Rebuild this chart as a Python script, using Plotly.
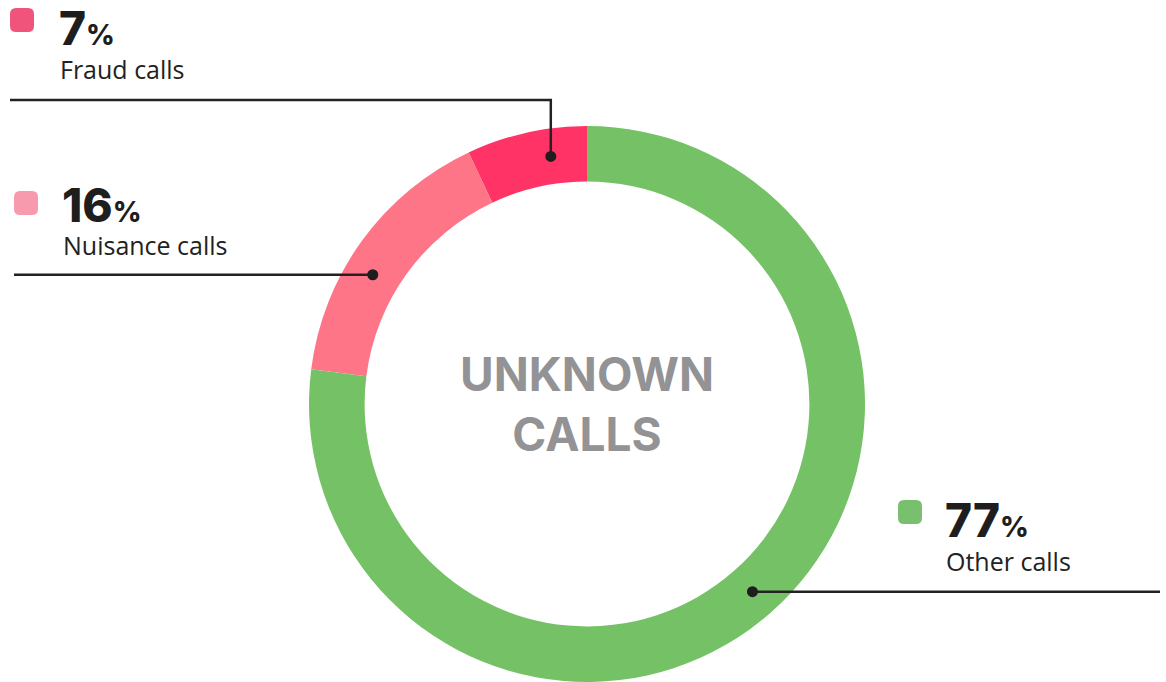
import math
import plotly.graph_objects as go

# ---- data ----
categories = ["Fraud calls", "Nuisance calls", "Other calls"]
shares = [7, 16, 77]
slice_colors = ["#FF3366", "#FF7588", "#75C266"]
legend_colors = ["#F0547A", "#F89AAE", "#78C06E"]
center_title = ["UNKNOWN", "CALLS"]

# ---- layout constants (pixels) ----
W, H = 1166, 682
CX, CY, R_OUT = 587, 404, 278
HOLE = 0.8
R_MID = R_OUT * (1 + HOLE) / 2
# where in each slice the leader dot sits (fraction of slice sweep)
anchor_frac = [0.33, 0.585, 0.5]
# label blocks: (square x, square y, text x, number center y, caption center y, line end x)
label_pos = [
    (10, 8, 60, 28, 69, 10),
    (14, 191, 63, 205, 245, 14),
    (898, 500, 946, 520, 561, 1160),
]

total = sum(shares)

fig = go.Figure()
fig.add_trace(go.Pie(
    labels=categories, values=shares, sort=False, direction="counterclockwise",
    rotation=-shares[0] / total * 360, hole=HOLE, textinfo="none",
    hoverinfo="label+percent",
    marker=dict(colors=slice_colors, line=dict(width=0)),
    domain=dict(x=[(CX - R_OUT) / W, (CX + R_OUT) / W],
                y=[1 - (CY + R_OUT) / H, 1 - (CY - R_OUT) / H]),
    showlegend=False,
))

cum = 0
shapes = []
annotations = []
for i, (cat, v) in enumerate(zip(categories, shares)):
    start = cum / total * 360
    sweep = v / total * 360
    cum += v
    ang = math.radians(start + sweep * anchor_frac[i])  # counterclockwise from 12 o'clock
    dx = CX - R_MID * math.sin(ang)
    dy = CY - R_MID * math.cos(ang)
    sqx, sqy, tx, ny, cy, lx = label_pos[i]
    # leader line
    if i == 0:
        ly = 100
        shapes.append(dict(type="path", xref="x", yref="y",
                           path=f"M {lx} {ly} L {dx:.1f} {ly} L {dx:.1f} {dy:.1f}",
                           line=dict(color="#222222", width=2.5)))
    else:
        shapes.append(dict(type="line", xref="x", yref="y", x0=lx, y0=dy, x1=dx, y1=dy,
                           line=dict(color="#222222", width=2.5)))
    # leader dot
    rd = 5.5
    shapes.append(dict(type="circle", xref="x", yref="y",
                       x0=dx - rd, x1=dx + rd, y0=dy - rd, y1=dy + rd,
                       fillcolor="#1E1E1E", line=dict(width=0)))
    # rounded square
    s, r = 24, 6
    x0, y0 = sqx, sqy
    x1, y1 = sqx + s, sqy + s
    path = (f"M {x0+r} {y0} L {x1-r} {y0} Q {x1} {y0} {x1} {y0+r} L {x1} {y1-r} "
            f"Q {x1} {y1} {x1-r} {y1} L {x0+r} {y1} Q {x0} {y1} {x0} {y1-r} "
            f"L {x0} {y0+r} Q {x0} {y0} {x0+r} {y0} Z")
    shapes.append(dict(type="path", xref="x", yref="y", path=path,
                       fillcolor=legend_colors[i], line=dict(width=0)))
    annotations.append(dict(
        x=tx - 3, y=ny, xref="x", yref="y", xanchor="left", yanchor="middle",
        text=f"{v}<span style='font-size:28px'>%</span>", showarrow=False,
        font=dict(family="Inter", size=46, color="#1E1E1E", weight=800)))
    annotations.append(dict(
        x=tx - 2, y=cy, xref="x", yref="y", xanchor="left", yanchor="middle",
        text=cat, showarrow=False,
        font=dict(family="Open Sans", size=25, color="#222222")))

annotations.append(dict(
    x=CX, y=CY, xref="x", yref="y", xanchor="center", yanchor="middle",
    text="<br>".join(center_title), showarrow=False,
    font=dict(family="Inter", size=46, color="#939396", weight=700)))

fig.update_layout(
    width=W, height=H, margin=dict(l=0, r=0, t=0, b=0),
    paper_bgcolor="white", plot_bgcolor="rgba(0,0,0,0)",
    xaxis=dict(range=[0, W], visible=False, fixedrange=True),
    yaxis=dict(range=[H, 0], visible=False, fixedrange=True),
    shapes=shapes, annotations=annotations,
)
fig.write_html("out.html", config={"displayModeBar": False},
               post_script="document.body.style.margin='0px';"
                           "document.body.style.overflow='hidden';")
